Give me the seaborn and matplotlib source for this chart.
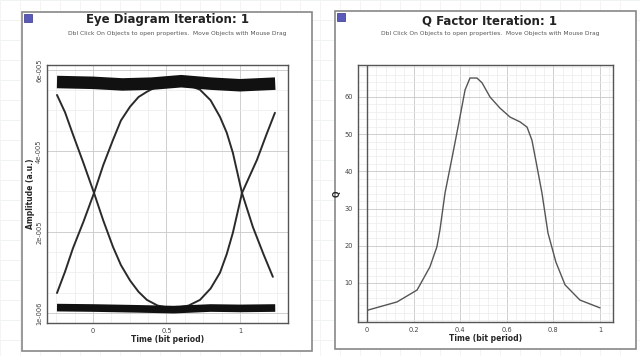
import numpy as np
import pandas as pd
import matplotlib
matplotlib.use("Agg")
import matplotlib.pyplot as plt
import seaborn as sns
from matplotlib.patches import Rectangle
from matplotlib.ticker import MultipleLocator

# ---- eye diagram traces (time in bit periods, amplitude in 1e-5 a.u.)
top_rail_t = [-0.245, 0.0, 0.2, 0.4, 0.6, 0.8, 1.0, 1.24]
top_rail_a = [5.70, 5.68, 5.64, 5.66, 5.72, 5.66, 5.62, 5.66]
bot_rail_t = [-0.245, 0.0, 0.3, 0.55, 0.8, 1.0, 1.24]
bot_rail_a = [0.13, 0.12, 0.10, 0.08, 0.12, 0.11, 0.12]

fall1_t = [-0.245, -0.19, -0.136, -0.065, 0.007, 0.07, 0.136, 0.19, 0.252, 0.31, 0.367, 0.44, 0.524]
fall1_a = [5.38, 4.95, 4.40, 3.70, 2.96, 2.28, 1.63, 1.18, 0.80, 0.52, 0.32, 0.18, 0.12]
rise1_t = [-0.245, -0.19, -0.136, -0.065, 0.007, 0.07, 0.136, 0.19, 0.252, 0.31, 0.367, 0.44, 0.524]
rise1_a = [0.49, 1.02, 1.60, 2.25, 2.96, 3.65, 4.27, 4.75, 5.09, 5.33, 5.46, 5.60, 5.65]
fall2_t = [0.558, 0.65, 0.728, 0.80, 0.864, 0.91, 0.952, 1.014, 1.088, 1.16, 1.224]
fall2_a = [5.65, 5.62, 5.51, 5.25, 4.84, 4.45, 3.95, 2.96, 2.12, 1.45, 0.89]
rise2_t = [0.558, 0.65, 0.728, 0.80, 0.864, 0.91, 0.952, 1.014, 1.116, 1.18, 1.238]
rise2_a = [0.12, 0.18, 0.32, 0.60, 0.99, 1.45, 1.98, 2.96, 3.78, 4.40, 4.94]

eye_xticks = [0, 0.5, 1]
eye_xticklabels = ["0", "0.5", "1"]
eye_yticks = [0, 2, 4, 6]
eye_yticklabels = ["1e-006", "2e-005", "4e-005", "6e-005"]

# ---- Q factor vs decision time
q_t = [0.004, 0.129, 0.215, 0.27, 0.30, 0.313, 0.335, 0.369, 0.399, 0.421, 0.442,
       0.472, 0.494, 0.528, 0.571, 0.614, 0.657, 0.687, 0.708, 0.730, 0.751,
       0.777, 0.811, 0.850, 0.914, 1.0]
q_val = [2.7, 4.9, 8.1, 14.3, 19.7, 24.2, 34.2, 44.9, 54.6, 61.9, 65.1,
         65.1, 63.8, 60.0, 57.0, 54.6, 53.3, 51.9, 48.4, 41.2, 34.2,
         23.4, 15.6, 9.5, 5.4, 3.3]
q_xticks = [0, 0.2, 0.4, 0.6, 0.8, 1]
q_yticks = [10, 20, 30, 40, 50, 60]

sns.set_style("white")
plt.rcParams['font.family'] = ['DejaVu Sans']

W, H = 640, 356
fig = plt.figure(figsize=(6.4, 3.56), dpi=100)
fig.patch.set_facecolor("white")

def fx(px):
    return px / W

def fy(py):
    return 1 - py / H

# faint canvas grid behind the windows
bg = fig.add_axes([0, 0, 1, 1], zorder=-10)
bg.set_xlim(0, W)
bg.set_ylim(H, 0)
for gy in np.arange(0, H, 20):
    bg.axhline(gy, color="#eef2ee", lw=0.6)
for gx in np.arange(0, W, 20):
    bg.axvline(gx, color="#f3f3f3", lw=0.6)
bg.axis("off")

# window frames
for (x0, y0, x1, y1) in [(22, 12, 312, 351), (335, 11, 636, 349)]:
    bg.add_patch(Rectangle((x0, y0), x1 - x0, y1 - y0, facecolor="white",
                           edgecolor="#888888", lw=1.2, zorder=2))
    bg.add_patch(Rectangle((x0 + 2, y0 + 2), 8, 8, facecolor="#5a5ab8",
                           edgecolor="#333388", lw=0.5, zorder=3))

sub = "Dbl Click On Objects to open properties.  Move Objects with Mouse Drag"
fig.text(fx(167), fy(20), "Eye Diagram Iteration: 1", ha="center", va="center",
         fontsize=8.5, fontweight="bold", color="#222222")
fig.text(fx(177), fy(33), sub, ha="center", va="center", fontsize=4.3, color="#555555")
fig.text(fx(490), fy(21), "Q Factor Iteration: 1", ha="center", va="center",
         fontsize=8.5, fontweight="bold", color="#222222")
fig.text(fx(490), fy(34), sub, ha="center", va="center", fontsize=4.3, color="#555555")

def style_axes(ax):
    for s in ax.spines.values():
        s.set_color("#555555")
        s.set_linewidth(1.0)
    ax.tick_params(which="both", direction="in", colors="#444444", labelsize=4.8,
                   labelcolor="#444444")
    ax.tick_params(which="major", length=4)
    ax.tick_params(which="minor", length=2.5)
    ax.grid(which="major", color="#c8c8c8", lw=0.6)
    ax.grid(which="minor", color="#ececec", lw=0.5)

# ---- eye diagram
ax1 = fig.add_axes([fx(47), fy(323), fx(288) - fx(47), fy(65) - fy(323)])
traces = [(fall1_t, fall1_a), (rise1_t, rise1_a), (fall2_t, fall2_a), (rise2_t, rise2_a)]
for tt, aa in traces:
    sns.lineplot(x=tt, y=aa, ax=ax1, sort=False, estimator=None,
                 color="#2a2a2a", lw=1.4)
sns.lineplot(x=top_rail_t, y=top_rail_a, ax=ax1, sort=False, estimator=None,
             color="#111111", lw=9, solid_capstyle="butt")
sns.lineplot(x=bot_rail_t, y=bot_rail_a, ax=ax1, sort=False, estimator=None,
             color="#111111", lw=5.5, solid_capstyle="butt")
ax1.set_xlim(-0.313, 1.327)
ax1.set_ylim(-0.25, 6.12)
ax1.set_xticks(eye_xticks)
ax1.set_xticklabels(eye_xticklabels)
ax1.set_yticks(eye_yticks)
ax1.set_yticklabels(eye_yticklabels, rotation=90, va="center")
ax1.xaxis.set_minor_locator(MultipleLocator(0.125))
ax1.yaxis.set_minor_locator(MultipleLocator(0.5))
style_axes(ax1)
ax1.set_xlabel("Time (bit period)", fontsize=5.5, fontweight="bold", labelpad=1)
ax1.set_ylabel("Amplitude (a.u.)", fontsize=5.5, fontweight="bold", labelpad=1)

# ---- Q factor
ax2 = fig.add_axes([fx(358), fy(322), fx(613) - fx(358), fy(65) - fy(322)])
sns.lineplot(x=q_t, y=q_val, ax=ax2, color="#555555", lw=1.0)
ax2.axvline(0, color="#555555", lw=1.0)
ax2.set_xlim(-0.0386, 1.056)
ax2.set_ylim(-0.5, 68.6)
ax2.set_xticks(q_xticks)
ax2.set_xticklabels(["0", "0.2", "0.4", "0.6", "0.8", "1"])
ax2.set_yticks(q_yticks)
ax2.xaxis.set_minor_locator(MultipleLocator(0.04))
ax2.yaxis.set_minor_locator(MultipleLocator(2))
style_axes(ax2)
ax2.set_xlabel("Time (bit period)", fontsize=5.5, fontweight="bold", labelpad=1)
ax2.set_ylabel("Q", fontsize=5.5, fontweight="bold", labelpad=2)

fig.savefig("out.png", dpi=100)
